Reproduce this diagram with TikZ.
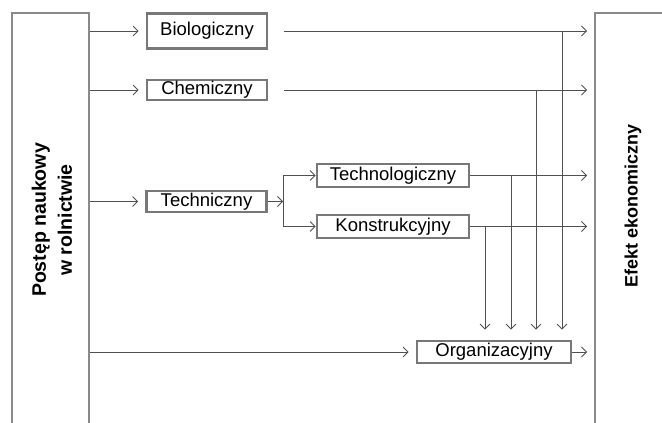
\documentclass[tikz,border=0pt]{standalone}
\usepackage{fontspec}
\setmainfont{Liberation Sans}
\usetikzlibrary{arrows.meta, positioning, calc}
\definecolor{framegray}{RGB}{138, 138, 138}
\definecolor{boxgray}{RGB}{120, 120, 120}
\definecolor{linegray}{RGB}{80, 80, 80}

\begin{document}
\begin{tikzpicture}[x=1pt, y=-1pt,
    frame/.style={rectangle, draw=framegray, line width=2pt, inner sep=0pt},
    stage/.style={rectangle, draw=boxgray, line width=2.8pt, fill=white,
                  inner sep=0pt, minimum width=120pt, minimum height=21pt,
                  font=\fontsize{18.5}{20}\selectfont},
    side/.style={rotate=90, align=center, inner sep=0pt,
                 font=\fontsize{19.5}{26}\selectfont\bfseries},
    fl/.style={-{Straight Barb[length=5pt,width=10pt]}, linegray, line width=0.8pt},
    ln/.style={linegray, line width=0.8pt}
]
\useasboundingbox (0,0) rectangle (662,423);
\clip (0,0) rectangle (662,423);

% Side frames
\node[frame, minimum width=77pt, minimum height=440pt] (src) at (50.5,233) {};
\node[frame, minimum width=110pt, minimum height=440pt] (eff) at (650,233) {};
\node[side] (srclbl) at (52,220) {Postęp naukowy\\w rolnictwie};
\node[side, font=\fontsize{18}{20}\selectfont\bfseries] (efflbl) at (633,206) {Efekt ekonomiczny};

% Stages
\node[stage, minimum height=35pt] (bio)  at (207,31)   {Biologiczny};
\node[stage, minimum height=20pt] (chem) at (207,90)   {Chemiczny};
\node[stage] (tech) at (206.5,201.5) {Techniczny};
\node[stage, minimum width=152pt, minimum height=23pt] (tlg) at (393,175.5) {Technologiczny};
\node[stage, minimum width=152pt, minimum height=23pt] (kon) at (393,226.5) {Konstrukcyjny};
\node[stage, minimum width=154pt, minimum height=22pt] (org) at (494,352) {Organizacyjny};

% Branch points
\coordinate (split) at (283,201.5);
\coordinate (dbio)  at (562,31);
\coordinate (dchem) at (536,90);
\coordinate (dtlg)  at (511,175.5);
\coordinate (dkon)  at (485,226.5);

% Flows: from the left frame
\draw[fl, shorten >=7pt] (src.east |- bio)  -- (bio);
\draw[fl, shorten >=7pt] (src.east |- chem) -- (chem);
\draw[fl, shorten >=7pt] (src.east |- tech) -- (tech);
\draw[fl, shorten >=7pt] (src.east |- org)  -- (org);

% Flows: Techniczny
\draw[fl] (tech) -- (split);
\draw[ln] (split |- tlg) -- (split |- kon);
\draw[fl] (split |- tlg) -- (tlg);
\draw[fl] (split |- kon) -- (kon);

% Flows: to the right frame
\draw[fl, shorten <=16pt, shorten >=7pt] (bio.east)  -- (bio -| eff.west);
\draw[fl, shorten <=16pt, shorten >=7pt] (chem.east) -- (chem -| eff.west);
\draw[fl, shorten >=7pt] (tlg.east) -- (tlg -| eff.west);
\draw[fl, shorten >=7pt] (kon.east) -- (kon -| eff.west);
\draw[fl, shorten >=7pt] (org.east) -- (org -| eff.west);

% Flows: down to Organizacyjny
\draw[fl, shorten >=10pt] (dbio)  -- (dbio |- org.north);
\draw[fl, shorten >=10pt] (dchem) -- (dchem |- org.north);
\draw[fl, shorten >=10pt] (dtlg)  -- (dtlg |- org.north);
\draw[fl, shorten >=10pt] (dkon)  -- (dkon |- org.north);

\end{tikzpicture}
\end{document}
